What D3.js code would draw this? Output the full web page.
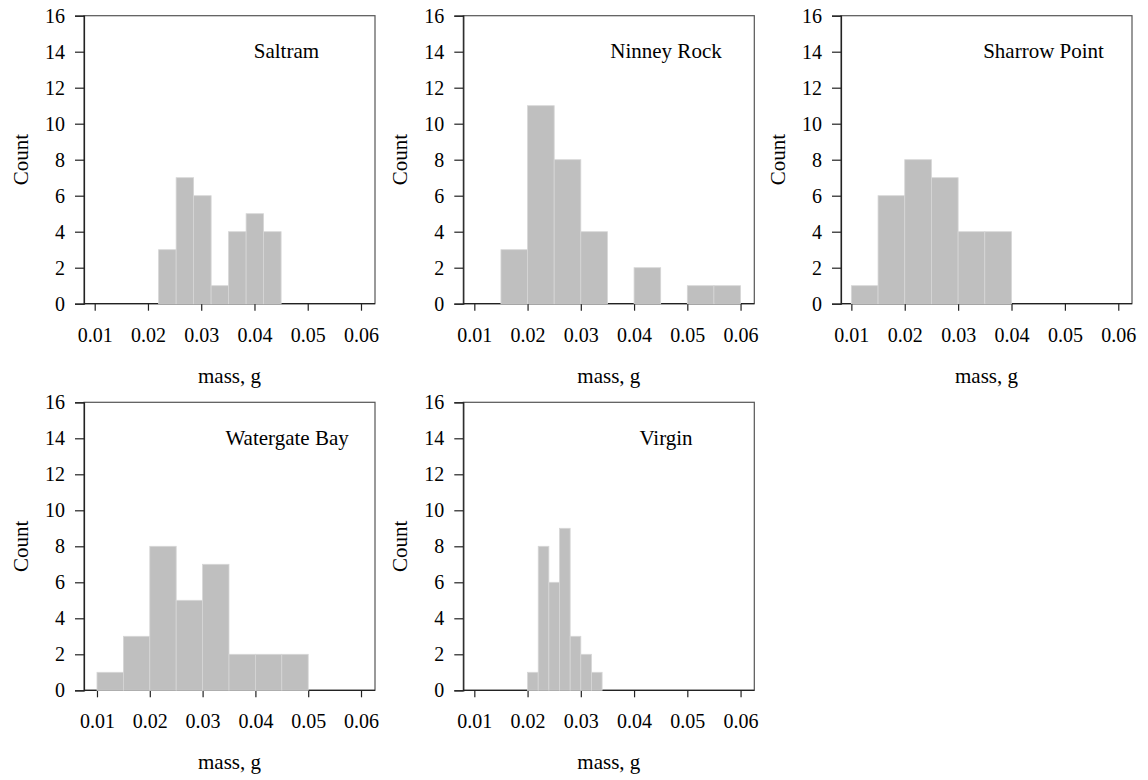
<!DOCTYPE html>
<html>
<head>
<meta charset="utf-8">
<script src="https://cdn.jsdelivr.net/npm/d3@7"></script>
<style>
  html, body { margin: 0; padding: 0; background: #fff; }
  svg { display: block; }
</style>
</head>
<body>
<div id="chart"></div>
<script>
// ---- data ----
const sites = ["Saltram", "Ninney Rock", "Sharrow Point", "Watergate Bay", "Virgin"];

const saltramBreaks = [0.022, 0.02529, 0.02857, 0.03186, 0.03514, 0.03843, 0.04171, 0.045];
const saltramCounts = [3, 7, 6, 1, 4, 5, 4];

const ninneyBreaks = [0.015, 0.020, 0.025, 0.030, 0.035, 0.040, 0.045, 0.050, 0.055, 0.060];
const ninneyCounts = [3, 11, 8, 4, 0, 2, 0, 1, 1];

const sharrowBreaks = [0.010, 0.015, 0.020, 0.025, 0.030, 0.035, 0.040];
const sharrowCounts = [1, 6, 8, 7, 4, 4];

const watergateBreaks = [0.010, 0.015, 0.020, 0.025, 0.030, 0.035, 0.040, 0.045, 0.050];
const watergateCounts = [1, 3, 8, 5, 7, 2, 2, 2];

const virginBreaks = [0.020, 0.022, 0.024, 0.026, 0.028, 0.030, 0.032, 0.034];
const virginCounts = [1, 8, 6, 9, 3, 2, 1];

const xTicks = [0.01, 0.02, 0.03, 0.04, 0.05, 0.06];
const yTicks = [0, 2, 4, 6, 8, 10, 12, 14, 16];
const xLabel = "mass, g";
const yLabel = "Count";

const breaksList = [saltramBreaks, ninneyBreaks, sharrowBreaks, watergateBreaks, virginBreaks];
const countsList = [saltramCounts, ninneyCounts, sharrowCounts, watergateCounts, virginCounts];

// ---- layout ----
const W = 1148, H = 780;
const panelW = 291, panelH = 288;
const origins = [[84, 15.7], [463.3, 15.7], [841, 15.7], [84, 402.3], [463.3, 402.3]];
const xDomains = [
  [0.00799, 0.06263], [0.00793, 0.06258], [0.00806, 0.06257],
  [0.00754, 0.06265], [0.00793, 0.06258]
];
const FONT = '"Liberation Serif", "Times New Roman", serif';
const tickFont = 20, labelFont = 21;
const textColor = "#000";

const svg = d3.select("#chart").append("svg")
  .attr("width", W).attr("height", H);

sites.forEach((site, i) => {
  const [ox, oy] = origins[i];
  const g = svg.append("g").attr("transform", `translate(${ox},${oy})`);
  const x = d3.scaleLinear().domain(xDomains[i]).range([0, panelW]);
  const y = d3.scaleLinear().domain([0, 16]).range([panelH, 0]);

  // box
  g.append("rect")
    .attr("x", 0).attr("y", 0).attr("width", panelW).attr("height", panelH)
    .attr("fill", "none").attr("stroke", "#555").attr("stroke-width", 1.2);

  // y axis
  const ya = g.append("g").attr("class", "yaxis")
    .call(d3.axisLeft(y).tickValues(yTicks).tickSize(9).tickPadding(10).tickFormat(d3.format("d")));
  ya.select(".domain").attr("stroke", "#222").attr("stroke-width", 1.2);
  ya.selectAll(".tick line").attr("stroke", "#222").attr("stroke-width", 1.2);
  ya.selectAll(".tick text")
    .style("font-family", FONT).style("font-size", tickFont + "px").style("fill", textColor);

  // x axis
  const xa = g.append("g").attr("class", "xaxis").attr("transform", `translate(0,${panelH})`)
    .call(d3.axisBottom(x).tickValues(xTicks).tickSize(7).tickSizeOuter(0).tickPadding(17).tickFormat(d3.format(".2f")));
  xa.select(".domain").attr("stroke", "#222").attr("stroke-width", 1.2)
    .attr("d", `M0,0H${panelW}`);
  xa.selectAll(".tick line").attr("stroke", "#222").attr("stroke-width", 1.2);
  xa.selectAll(".tick text")
    .style("font-family", FONT).style("font-size", tickFont + "px").style("fill", textColor);

  // bars
  const br = breaksList[i], ct = countsList[i];
  const bins = ct.map((c, k) => ({ x0: br[k], x1: br[k + 1], c })).filter(d => d.c > 0);
  g.append("g").selectAll("rect").data(bins).join("rect")
    .attr("x", d => x(d.x0))
    .attr("width", d => x(d.x1) - x(d.x0))
    .attr("y", d => y(d.c))
    .attr("height", d => y(0) - y(d.c))
    .attr("fill", "#bfbfbf")
    .attr("stroke", "#d6d6d6")
    .attr("stroke-width", 0.8);

  // title
  g.append("text")
    .attr("x", x(0.046)).attr("y", y(14))
    .attr("dy", "0.32em")
    .attr("text-anchor", "middle")
    .style("font-family", FONT).style("font-size", labelFont + "px").style("fill", textColor)
    .text(site);

  // x label
  g.append("text")
    .attr("x", panelW / 2).attr("y", panelH + 79)
    .attr("text-anchor", "middle")
    .style("font-family", FONT).style("font-size", labelFont + "px").style("fill", textColor)
    .text(xLabel);

  // y label
  g.append("text")
    .attr("transform", `translate(-56,${panelH / 2}) rotate(-90)`)
    .attr("text-anchor", "middle")
    .style("font-family", FONT).style("font-size", labelFont + "px").style("fill", textColor)
    .text(yLabel);
});
</script>
</body>
</html>
